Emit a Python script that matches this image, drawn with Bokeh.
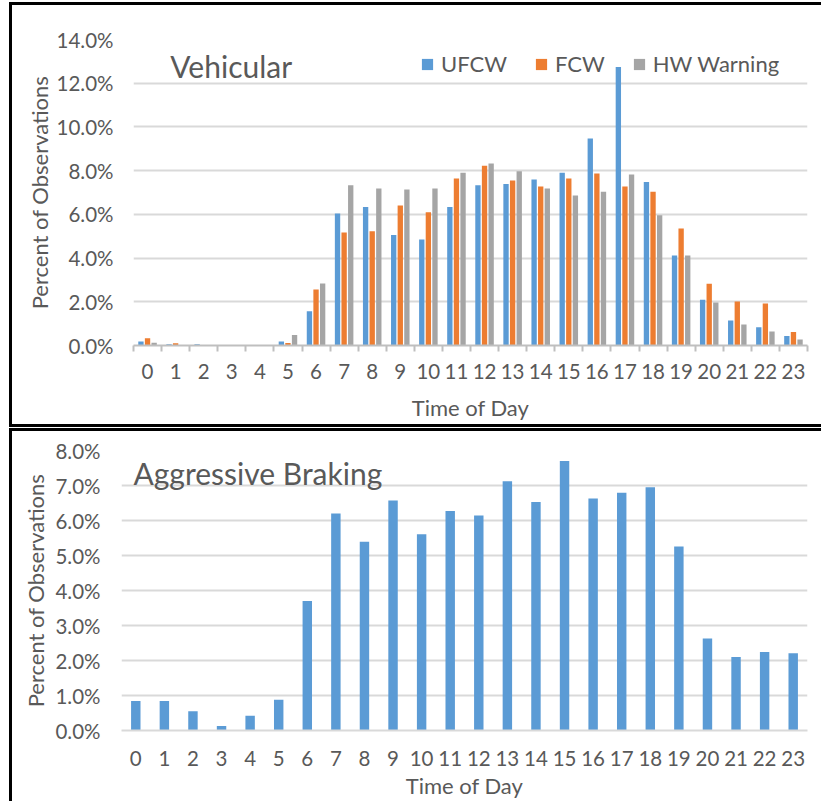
from bokeh.plotting import figure
from bokeh.layouts import column
from bokeh.models import (ColumnDataSource, FixedTicker, PrintfTickFormatter,
                          Legend, LegendItem, Label, Range1d)
from bokeh.transform import dodge
from bokeh.embed import file_html
from bokeh.resources import INLINE

# ---------------- data ----------------
hours = list(range(24))
hour_labels = [str(h) for h in hours]

ufcw = [0.18, 0.06, 0.06, 0.0, 0.0, 0.18, 1.57, 6.04, 6.34, 5.05, 4.85, 6.34,
        7.33, 7.39, 7.59, 7.90, 9.47, 12.74, 7.48, 4.12, 2.09, 1.14, 0.84, 0.43]
fcw = [0.33, 0.10, 0.0, 0.0, 0.0, 0.12, 2.56, 5.17, 5.23, 6.40, 6.10, 7.64,
       8.22, 7.55, 7.27, 7.64, 7.87, 7.27, 7.03, 5.35, 2.82, 2.01, 1.92, 0.62]
hw_warning = [0.13, 0.0, 0.0, 0.0, 0.0, 0.48, 2.84, 7.33, 7.18, 7.14, 7.18, 7.90,
              8.33, 7.97, 7.18, 6.86, 7.03, 7.82, 5.96, 4.12, 1.97, 0.96, 0.64, 0.27]
braking = [0.84, 0.84, 0.55, 0.13, 0.42, 0.88, 3.70, 6.20, 5.39, 6.57, 5.61, 6.27,
           6.14, 7.12, 6.53, 7.70, 6.63, 6.79, 6.95, 5.26, 2.63, 2.10, 2.24, 2.21]

series_names = ["UFCW", "FCW", "HW Warning"]
top_yticks = [0, 2, 4, 6, 8, 10, 12, 14]
bottom_yticks = [0, 1, 2, 3, 4, 5, 6, 7, 8]

# ---------------- style ----------------
FONT = "Lato"
TXT = "#595959"
GRID = "#D9D9D9"
BLUE, ORANGE, GRAY = "#5B9BD5", "#ED7D31", "#A5A5A5"

src = ColumnDataSource(dict(hour=hours, ufcw=ufcw, fcw=fcw, hw=hw_warning, brk=braking))


def style(p, yticks, ylab_standoff, xlab_standoff, xaxis_lab_standoff, yaxis_lab_standoff):
    p.outline_line_color = None
    p.xgrid.grid_line_color = None
    p.ygrid.grid_line_color = GRID
    p.ygrid.grid_line_width = 2
    p.ygrid.ticker = FixedTicker(ticks=yticks)
    ya = p.yaxis[0]
    ya.ticker = FixedTicker(ticks=yticks)
    ya.formatter = PrintfTickFormatter(format="%.1f%%")
    ya.axis_line_color = None
    ya.major_tick_line_color = None
    ya.minor_tick_line_color = None
    ya.major_tick_out = 0
    ya.major_tick_in = 0
    ya.major_label_standoff = ylab_standoff
    ya.major_label_text_font = FONT
    ya.major_label_text_font_size = "20.5px"
    ya.major_label_text_color = TXT
    ya.axis_label = "Percent of Observations"
    ya.axis_label_text_font = FONT
    ya.axis_label_text_font_size = "22px"
    ya.axis_label_text_font_style = "normal"
    ya.axis_label_text_color = TXT
    ya.axis_label_standoff = yaxis_lab_standoff
    xa = p.xaxis[0]
    xa.major_label_overrides = {h: s for h, s in zip(hours, hour_labels)}
    xa.major_tick_out = 0
    xa.major_tick_in = 0
    xa.major_tick_line_color = None
    xa.axis_line_color = GRID
    xa.axis_line_width = 2
    xa.major_label_standoff = xlab_standoff
    xa.major_label_text_font = FONT
    xa.major_label_text_font_size = "20.5px"
    xa.major_label_text_color = TXT
    xa.axis_label = "Time of Day"
    xa.axis_label_text_font = FONT
    xa.axis_label_text_font_size = "22px"
    xa.axis_label_text_font_style = "normal"
    xa.axis_label_text_color = TXT
    xa.axis_label_standoff = xaxis_lab_standoff


# ---------------- top chart ----------------
p1 = figure(width=809, height=419, output_backend="svg", toolbar_location=None,
            x_range=Range1d(-0.5, 23.5), y_range=Range1d(0, 14),
            min_border_left=121, min_border_right=14, min_border_top=34, min_border_bottom=79)
style(p1, top_yticks, 20, 12, 12, 1)
p1.xaxis[0].ticker = FixedTicker(ticks=hours, minor_ticks=[h - 0.5 for h in hours] + [hours[-1] + 0.5])
p1.xaxis[0].minor_tick_out = 6
p1.xaxis[0].minor_tick_in = 0
p1.xaxis[0].minor_tick_line_color = "#BFBFBF"
p1.xaxis[0].minor_tick_line_width = 2
p1.xaxis[0].axis_line_color = "#BFBFBF"

w = 0.19
r1 = p1.vbar(x=dodge("hour", -0.235), top="ufcw", width=w, source=src, fill_color=BLUE, line_color=None)
r2 = p1.vbar(x=dodge("hour", 0.0), top="fcw", width=w, source=src, fill_color=ORANGE, line_color=None)
r3 = p1.vbar(x=dodge("hour", 0.235), top="hw", width=w, source=src, fill_color=GRAY, line_color=None)

legend = Legend(items=[LegendItem(label=series_names[0], renderers=[r1]),
                       LegendItem(label=series_names[1], renderers=[r2]),
                       LegendItem(label=series_names[2], renderers=[r3])],
                location=(287, 268), orientation="horizontal",
                glyph_width=14, glyph_height=14, label_standoff=7, spacing=27,
                padding=0, margin=0, border_line_color=None, background_fill_alpha=0,
                label_text_font=FONT, label_text_font_size="22px", label_text_color=TXT)
p1.add_layout(legend)

p1.add_layout(Label(x=0.81, y=12.78, text="Vehicular", text_font=FONT, text_font_size="30px",
                    text_color=TXT, text_baseline="middle", text_align="left"))

# ---------------- bottom chart ----------------
p2 = figure(width=809, height=370, output_backend="svg", toolbar_location=None,
            x_range=Range1d(-0.5, 23.5), y_range=Range1d(0, 8),
            min_border_left=109, min_border_right=14, min_border_top=19, min_border_bottom=71)
style(p2, bottom_yticks, 21, 20, 3, 3)
p2.xaxis[0].ticker = FixedTicker(ticks=hours)
p2.xaxis[0].minor_tick_line_color = None

p2.vbar(x="hour", top="brk", width=0.33, source=src, fill_color=BLUE, line_color=None)

p2.add_layout(Label(x=-0.08, y=7.35, text="Aggressive Braking", text_font=FONT, text_font_size="30px",
                    text_color=TXT, text_baseline="middle", text_align="left"))

top_panel = column(p1, styles={"border-left": "3px solid black", "border-top": "3px solid black",
                               "border-bottom": "3px solid black",
                               "margin-top": "2px", "margin-left": "9px"})
bottom_panel = column(p2, styles={"border-left": "3px solid black", "border-top": "3px solid black",
                                  "margin-top": "1px", "margin-left": "9px"})

open("out.html", "w").write(file_html([top_panel, bottom_panel], INLINE))
